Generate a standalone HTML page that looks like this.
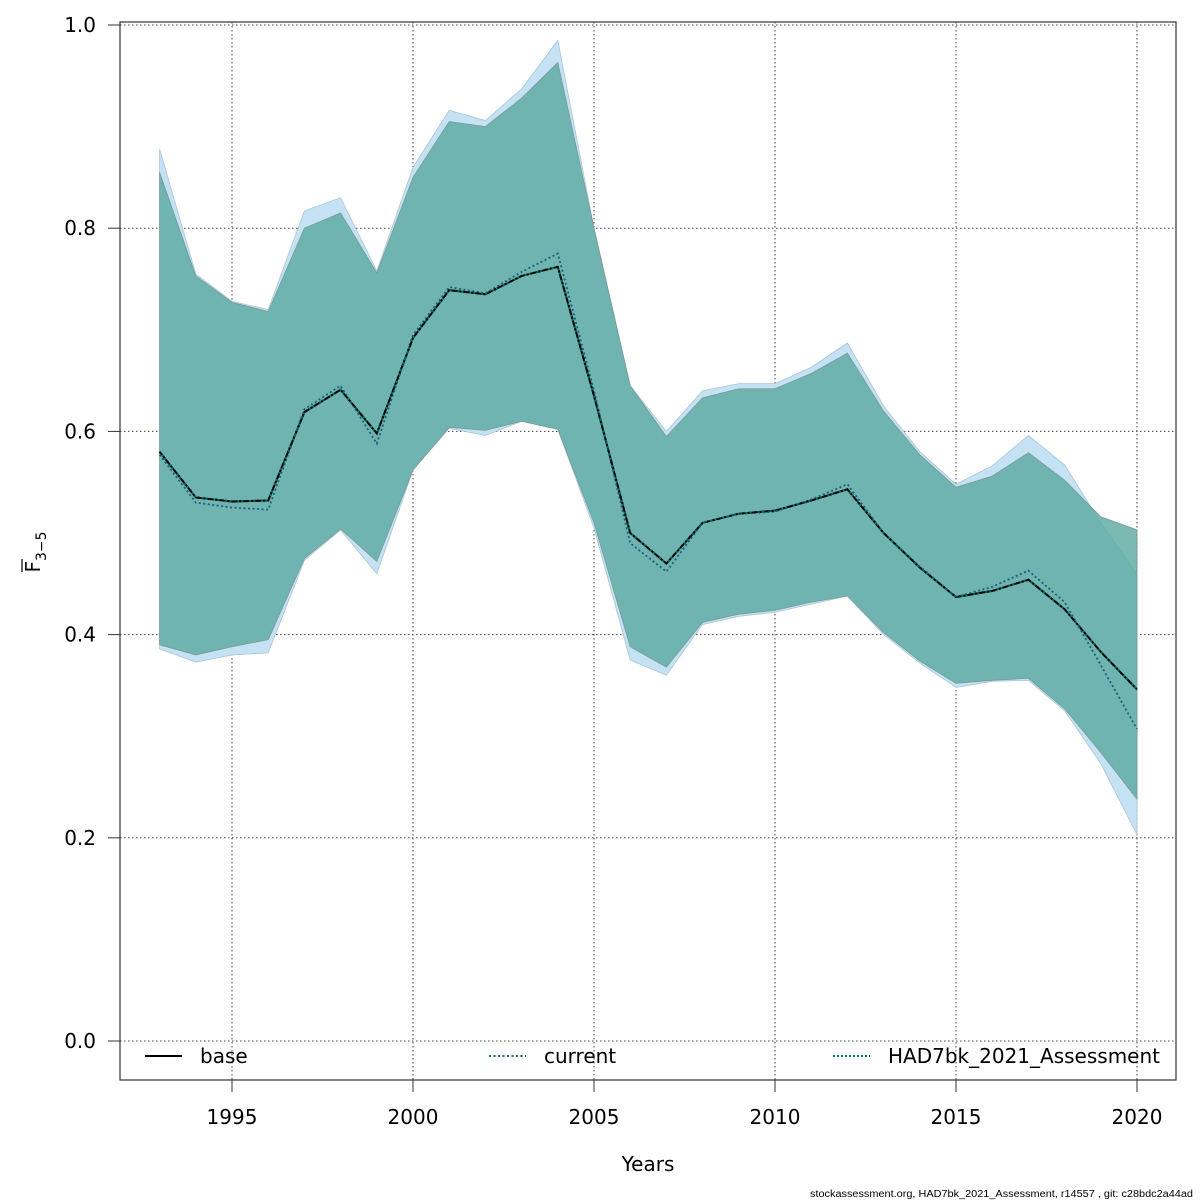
<!DOCTYPE html>
<html><head><meta charset="utf-8"><style>
body{margin:0;background:#fff;}
svg{display:block;font-family:"DejaVu Sans","Liberation Sans",sans-serif;}
</style></head><body>
<svg id="chart" width="1200" height="1200" xmlns="http://www.w3.org/2000/svg"></svg>
<script>
const years=[1993,1994,1995,1996,1997,1998,1999,2000,2001,2002,2003,2004,2005,2006,2007,2008,2009,2010,2011,2012,2013,2014,2015,2016,2017,2018,2019,2020];
const base=[0.580,0.535,0.531,0.532,0.619,0.641,0.598,0.692,0.739,0.735,0.753,0.762,0.635,0.500,0.470,0.510,0.519,0.522,0.532,0.543,0.500,0.466,0.437,0.443,0.454,0.425,0.383,0.346];
const current=[0.577,0.530,0.525,0.523,0.622,0.645,0.588,0.695,0.742,0.736,0.757,0.775,0.640,0.490,0.462,0.510,0.519,0.521,0.533,0.548,0.500,0.467,0.437,0.447,0.463,0.432,0.370,0.307];
const assess=[0.580,0.535,0.531,0.532,0.619,0.641,0.598,0.692,0.739,0.735,0.753,0.762,0.635,0.500,0.470,0.510,0.519,0.522,0.532,0.543,0.500,0.466,0.437,0.443,0.454,0.425,0.383,0.346];
const curUpper=[0.878,0.755,0.728,0.720,0.817,0.830,0.758,0.860,0.916,0.906,0.937,0.985,0.800,0.645,0.600,0.640,0.647,0.647,0.663,0.687,0.625,0.580,0.548,0.566,0.596,0.567,0.510,0.460];
const curLower=[0.386,0.373,0.380,0.382,0.473,0.503,0.460,0.562,0.603,0.596,0.610,0.602,0.505,0.375,0.360,0.410,0.418,0.422,0.430,0.438,0.400,0.372,0.348,0.354,0.355,0.325,0.273,0.203];
const baseUpper=[0.855,0.753,0.727,0.718,0.800,0.815,0.756,0.850,0.905,0.900,0.928,0.963,0.800,0.645,0.595,0.633,0.642,0.642,0.657,0.677,0.620,0.577,0.545,0.556,0.579,0.552,0.516,0.503];
const baseLower=[0.390,0.380,0.388,0.395,0.475,0.504,0.472,0.562,0.604,0.601,0.610,0.602,0.510,0.388,0.368,0.412,0.420,0.424,0.432,0.438,0.402,0.374,0.352,0.355,0.357,0.327,0.284,0.238];
const xTicks=[1995,2000,2005,2010,2015,2020];
const yTicks=[0,0.2,0.4,0.6,0.8,1.0];
const yTickLabels=["0.0","0.2","0.4","0.6","0.8","1.0"];

const NS="http://www.w3.org/2000/svg";
const svg=document.getElementById('chart');
const X=y=>232+(y-1995)*36.2;
const Y=v=>1041-v*1016;
function el(t,a,txt){const e=document.createElementNS(NS,t);for(const k in a)e.setAttribute(k,a[k]);if(txt!=null)e.textContent=txt;svg.appendChild(e);return e;}

xTicks.forEach(t=>{const g=el('line',{x1:X(t),x2:X(t),y1:22,y2:1080,stroke:'#444','stroke-width':1,'stroke-dasharray':'1.5,2.5'});

});
yTicks.forEach(t=>{const g=el('line',{x1:120,x2:1176,y1:Y(t),y2:Y(t),stroke:'#444','stroke-width':1,'stroke-dasharray':'1.5,2.5'});

});

function band(up,lo,fill,stroke,op){
  let p=years.map((y,i)=>X(y)+','+Y(up[i]));
  for(let i=years.length-1;i>=0;i--)p.push(X(years[i])+','+Y(lo[i]));
  return el('polygon',{points:p.join(' '),fill:fill,'fill-opacity':op,stroke:stroke,'stroke-width':0.8});
}
const b1=band(curUpper,curLower,'#c4e2f3','#a9c6d6',1);


const b2=band(baseUpper,baseLower,'#5aa9a0','#7a9a96',0.8);



function line(vals,stroke,w,dash){
  const pts=years.map((y,i)=>X(y)+','+Y(vals[i])).join(' ');
  const a={points:pts,fill:'none',stroke:stroke,'stroke-width':w};
  if(dash)a['stroke-dasharray']=dash;
  return el('polyline',a);
}
const l1=line(base,'#000',2,null);


const l2=line(current,'#1a5f7a',1.8,'2,2.5');


const l3=line(assess,'#007060',2,'2,2');


const l4=line(assess,'#000',2,'2,4');



const fr=el('rect',{x:120,y:22,width:1056,height:1058,fill:'none',stroke:'#333','stroke-width':1.2});



xTicks.forEach(t=>{
  const tk=el('line',{x1:X(t),x2:X(t),y1:1080,y2:1092,stroke:'#333','stroke-width':1});
  
  
  const lb=el('text',{x:X(t),y:1124,'text-anchor':'middle','font-size':20,fill:'#000'},String(t));
  
  
});
yTicks.forEach((t,i)=>{
  const tk=el('line',{x1:108,x2:120,y1:Y(t),y2:Y(t),stroke:'#333','stroke-width':1});
  
  
  const lb=el('text',{x:96,y:Y(t)+7,'text-anchor':'end','font-size':20,fill:'#000'},yTickLabels[i]);
  
  
});
</script>
<svg style="position:absolute;left:0;top:0" width="1200" height="1200" xmlns="http://www.w3.org/2000/svg">
<text x="648" y="1171" text-anchor="middle" font-size="20" font-family="DejaVu Sans,sans-serif">Years</text>
<g transform="translate(40,552) rotate(-90)" font-family="DejaVu Sans,sans-serif">
<text x="0" y="0" text-anchor="middle" font-size="20">F<tspan font-size="14" dy="6">3−5</tspan></text>
<line x1="-20" x2="-7" y1="-18" y2="-18" stroke="#000" stroke-width="1.2"/>
</g>
<g font-family="DejaVu Sans,sans-serif" font-size="20">
<line x1="145" x2="182" y1="1056" y2="1056" stroke="#000" stroke-width="2"/>
<text x="200" y="1063">base</text>
<line x1="489" x2="526" y1="1056" y2="1056" stroke="#1a5f7a" stroke-width="2" stroke-dasharray="2,2.5"/>
<text x="544" y="1063">current</text>
<line x1="833" x2="870" y1="1056" y2="1056" stroke="#007060" stroke-width="2" stroke-dasharray="2,2"/>
<text x="888" y="1063">HAD7bk_2021_Assessment</text>
</g>
<text x="810" y="1197" textLength="383" lengthAdjust="spacingAndGlyphs" font-size="10" font-family="Liberation Sans,sans-serif">stockassessment.org, HAD7bk_2021_Assessment, r14557 , git: c28bdc2a44ad</text>
</svg>
</body></html>
